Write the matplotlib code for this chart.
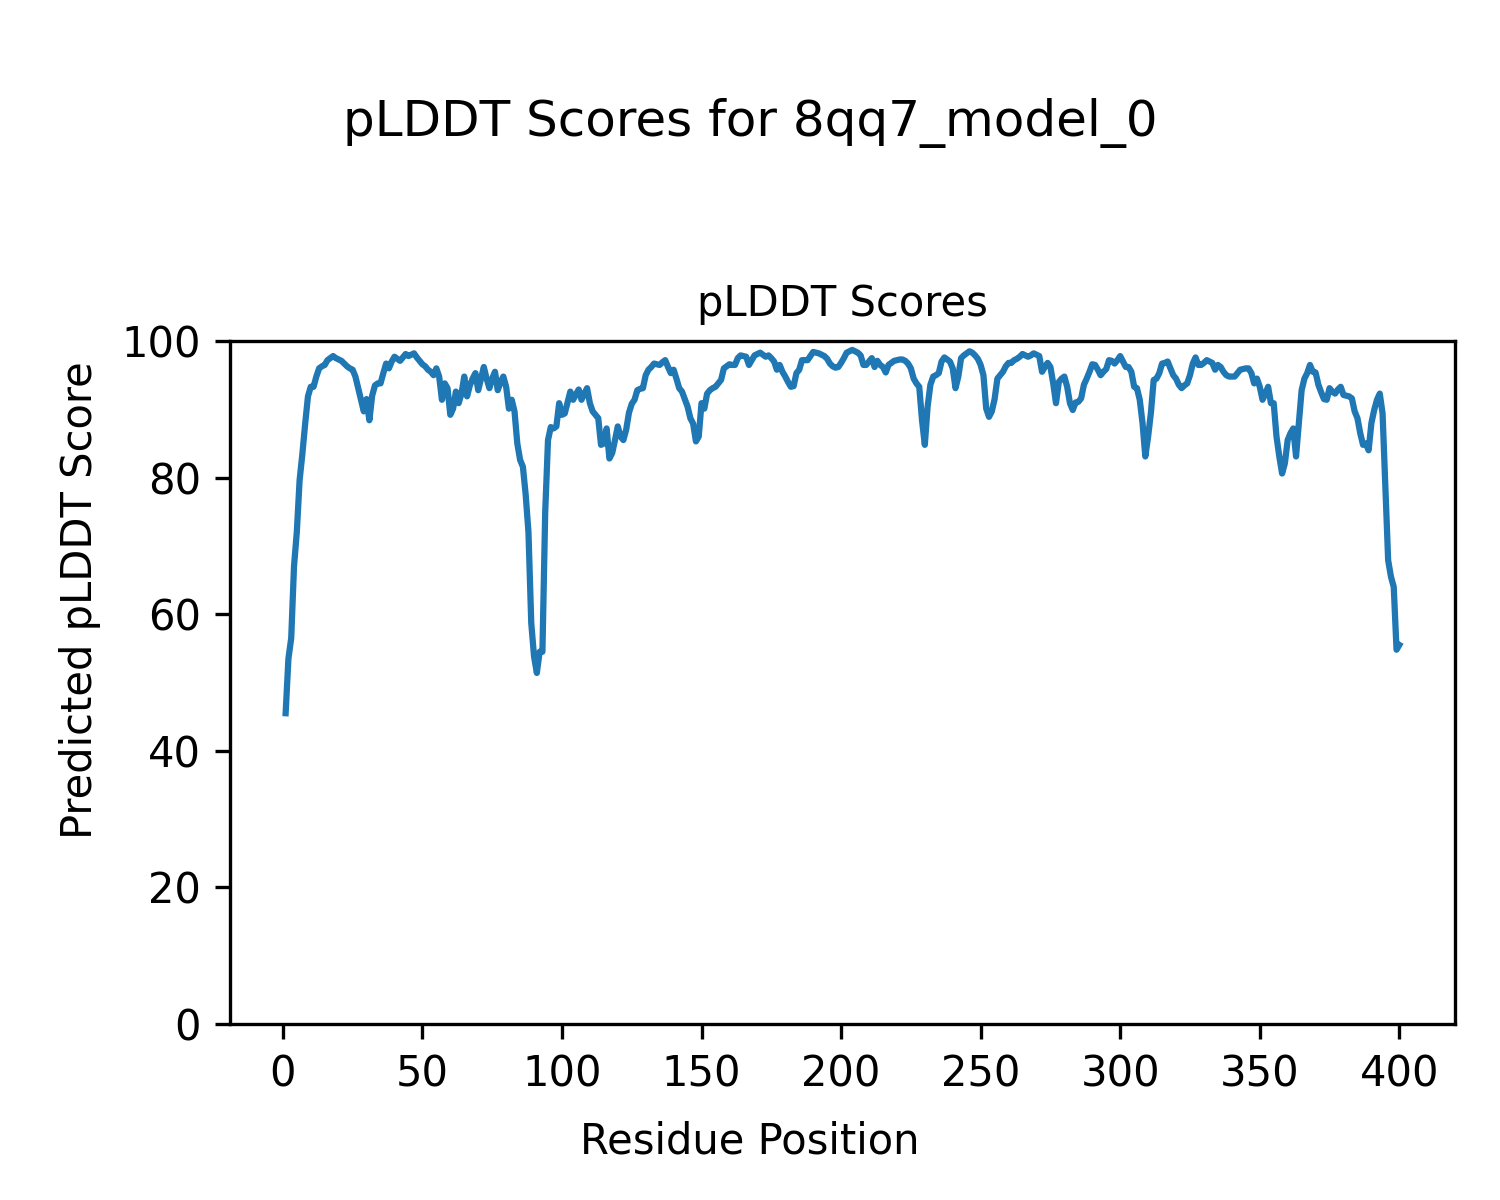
import numpy as np
import matplotlib
matplotlib.use('Agg')
import matplotlib.pyplot as plt

model_name = '8qq7_model_0'

plddt = [
    45.5, 53.5, 56.5, 67.0, 72.0, 79.6, 83.5, 87.9, 91.9, 93.3,
    93.3, 94.8, 96.0, 96.3, 96.5, 97.2, 97.5, 97.8, 97.5, 97.3,
    97.1, 96.7, 96.3, 96.0, 95.8, 94.8, 93.1, 91.4, 89.7, 91.5,
    88.4, 92.0, 93.5, 93.8, 93.8, 95.3, 96.7, 96.0, 97.0, 97.7,
    97.4, 97.1, 97.6, 98.1, 97.8, 98.0, 98.2, 97.6, 97.1, 96.6,
    96.3, 95.8, 95.5, 95.0, 96.0, 94.8, 91.4, 93.8, 93.1, 89.2,
    90.1, 92.6, 90.9, 92.3, 94.8, 91.9, 93.5, 94.5, 95.3, 92.8,
    94.5, 96.2, 94.5, 93.1, 94.5, 95.5, 92.8, 94.0, 94.8, 93.3,
    90.1, 91.4, 89.7, 85.0, 82.6, 81.6, 77.5, 72.0, 58.7, 53.8,
    51.4, 54.5, 54.5, 75.0, 85.5, 87.4, 87.2, 87.5, 90.9, 89.2,
    89.4, 91.0, 92.6, 91.4, 92.2, 92.9, 91.4, 92.3, 93.1, 90.9,
    89.7, 89.2, 88.7, 84.8, 85.0, 87.2, 82.8, 83.6, 85.5, 87.5,
    86.0, 85.5, 87.0, 89.5, 90.8, 91.4, 92.8, 93.0, 93.1, 95.0,
    95.8, 96.2, 96.7, 96.6, 96.5, 96.9, 97.2, 96.2, 95.3, 95.8,
    94.5, 93.1, 92.6, 91.5, 90.4, 88.7, 87.9, 85.3, 86.0, 90.9,
    90.1, 92.3, 92.8, 93.1, 93.3, 93.8, 94.3, 96.0, 96.3, 96.6,
    96.5, 96.5, 97.5, 97.9, 97.8, 97.7, 96.5, 97.2, 97.9, 98.1,
    98.3, 98.0, 97.7, 97.9, 97.5, 97.0, 95.8, 96.5, 95.5, 94.8,
    94.0, 93.3, 93.4, 95.3, 95.8, 97.2, 97.2, 97.2, 97.8, 98.4,
    98.3, 98.2, 98.0, 97.8, 97.4, 96.7, 96.3, 96.1, 96.2, 96.8,
    97.5, 98.3, 98.5, 98.7, 98.5, 98.3, 97.9, 96.5, 96.5, 97.0,
    97.5, 96.2, 97.1, 96.5, 96.2, 95.4, 96.5, 96.8, 97.1, 97.2,
    97.3, 97.3, 97.1, 96.7, 96.0, 94.5, 93.8, 93.3, 88.4, 84.8,
    90.4, 93.6, 94.8, 95.0, 95.3, 97.0, 97.6, 97.3, 97.0, 96.0,
    93.1, 94.8, 97.5, 97.9, 98.2, 98.5, 98.3, 97.9, 97.4, 96.5,
    95.0, 90.1, 88.9, 89.7, 91.5, 94.5, 95.0, 95.5, 96.3, 96.8,
    96.8, 97.2, 97.4, 97.7, 98.1, 97.9, 97.7, 97.9, 98.2, 98.0,
    97.8, 95.5, 96.2, 96.8, 96.2, 93.8, 90.9, 94.0, 94.5, 94.8,
    93.3, 90.9, 89.9, 91.0, 91.1, 91.6, 93.6, 94.5, 95.5, 96.6,
    96.5, 95.8, 95.0, 95.5, 95.9, 97.2, 97.1, 96.7, 97.2, 97.8,
    97.0, 96.2, 96.2, 95.5, 93.3, 93.1, 91.4, 88.0, 83.1, 86.0,
    89.5, 94.3, 94.5, 95.3, 96.7, 96.8, 97.0, 96.0, 95.0, 94.5,
    93.6, 93.1, 93.5, 93.8, 95.0, 96.7, 97.6, 96.5, 96.5, 96.8,
    97.2, 97.0, 96.8, 95.8, 96.5, 96.2, 95.5, 95.0, 94.8, 94.8,
    94.8, 95.3, 95.8, 95.9, 96.0, 96.0, 95.3, 93.8, 94.5, 93.3,
    91.4, 92.3, 93.3, 90.9, 90.9, 86.0, 83.1, 80.6, 82.1, 85.5,
    86.5, 87.2, 83.1, 88.0, 92.8, 94.5, 95.3, 96.5, 95.5, 95.4,
    93.6, 92.5, 91.5, 91.4, 93.1, 92.6, 92.3, 92.9, 93.3, 92.1,
    92.0, 91.9, 91.6, 89.7, 88.7, 86.5, 84.8, 85.0, 84.0, 88.0,
    89.9, 91.4, 92.3, 89.4, 78.7, 67.9, 65.5, 64.0, 54.8, 55.5,
]
residues = np.arange(1, len(plddt) + 1)

fig = plt.figure(figsize=(5, 4), dpi=300)
ax = fig.add_axes([0.1533, 0.1467, 0.8167, 0.5691])

ax.plot(residues, plddt)
ax.set_ylim(0, 100)
ax.set_title('pLDDT Scores', fontsize=10)

# figure-level labels, centred on the whole figure
fig.supxlabel('Residue Position', fontsize=10, y=0.0488, va='center')
fig.supylabel('Predicted pLDDT Score', fontsize=10, x=0.0535, ha='center')

fig.suptitle('pLDDT Scores for %s' % model_name, fontsize=12, y=0.918)

fig.savefig('out.png', dpi=300)
